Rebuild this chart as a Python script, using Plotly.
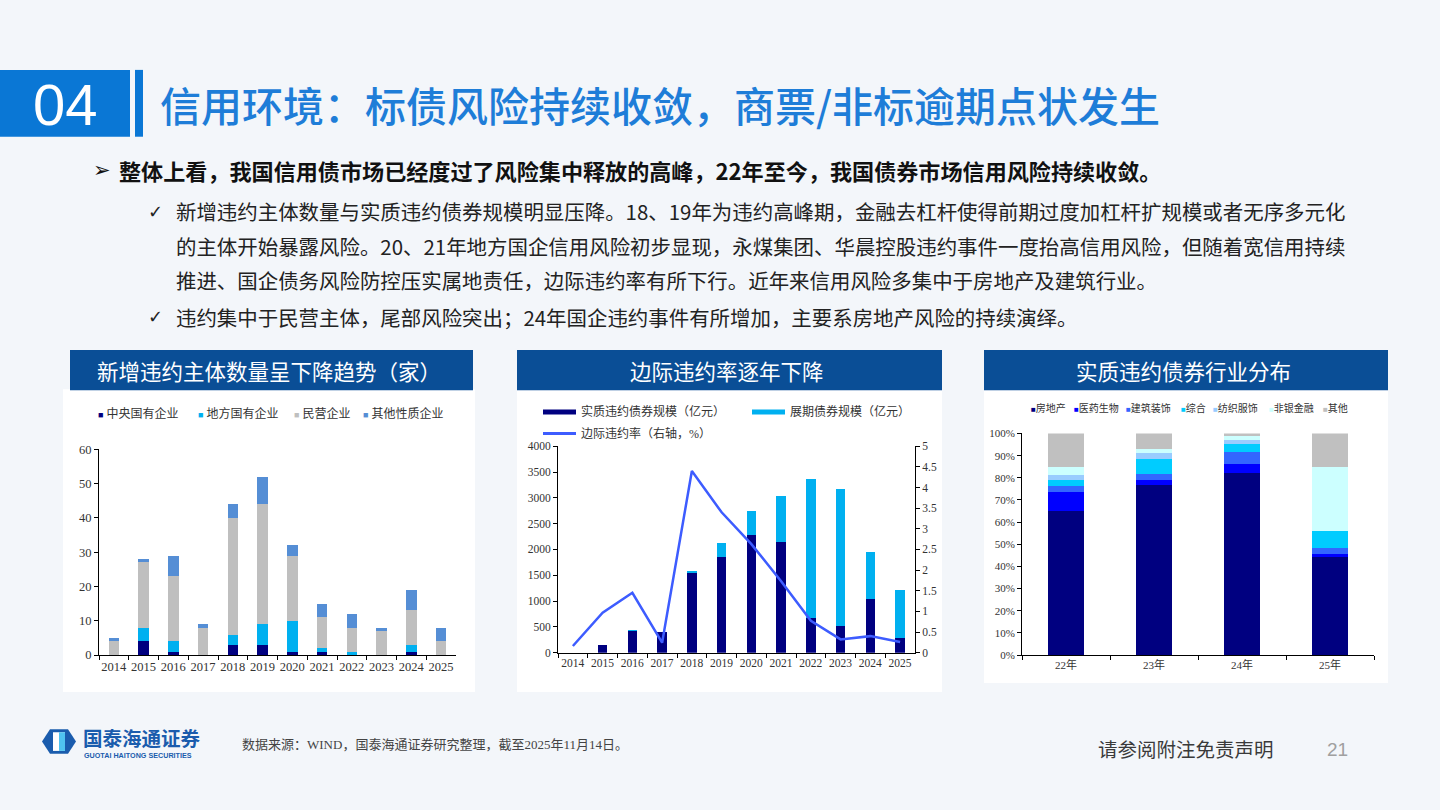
import plotly.graph_objects as go

# ---------------- data ----------------
years = ["2014", "2015", "2016", "2017", "2018", "2019", "2020", "2021", "2022", "2023", "2024", "2025"]

# chart 1: new defaulting issuers (count)
issuer_series = ["中央国有企业", "地方国有企业", "民营企业", "其他性质企业"]
central_soe = [0, 4, 1, 0, 3, 3, 1, 1, 0, 0, 1, 0]
local_soe = [0, 4, 3, 0, 3, 6, 9, 1, 1, 0, 2, 0]
private_ent = [4, 19, 19, 8, 34, 35, 19, 9, 7, 7, 10, 4]
other_ent = [1, 1, 6, 1, 4, 8, 3, 4, 4, 1, 6, 4]

# chart 2: default / extension scale (100m yuan) and marginal default rate (%)
amount_series = ["实质违约债券规模（亿元）", "展期债券规模（亿元）", "边际违约率（右轴，%）"]
default_amt = [0, 146, 420, 395, 1541, 1853, 2274, 2153, 662, 522, 1038, 287]
extension_amt = [0, 0, 13, 0, 19, 281, 471, 892, 2695, 2644, 905, 923]
marginal_rate = [0.16, 0.97, 1.45, 0.24, 4.40, 3.40, 2.63, 1.73, 0.77, 0.32, 0.40, 0.26]

# chart 3: industry distribution of defaulted bonds (%)
periods = ["22年", "23年", "24年", "25年"]
industries = ["房地产", "医药生物", "建筑装饰", "综合", "纺织服饰", "非银金融", "其他"]
real_estate = [65.2, 76.9, 82.2, 44.1]
pharma = [8.3, 1.9, 4.0, 1.5]
construction = [3.0, 2.9, 5.4, 2.9]
conglomerate = [2.6, 6.9, 3.7, 7.3]
textile = [2.3, 2.7, 1.6, 0.3]
nonbank_fin = [3.4, 1.6, 1.8, 29.0]
others = [15.2, 7.1, 1.3, 14.9]

# ---------------- helpers ----------------
W, H = 1440, 810
def px(x):
    return x / W
def py(y):
    return 1 - y / H

CJK = "Noto Sans CJK SC"
SERIF = "Liberation Serif, Noto Sans CJK SC"

fig = go.Figure()

# chart 1 traces
c1_cols = ["#000080", "#00B0F0", "#BFBFBF", "#558ED5"]
for name, vals, col in zip(issuer_series, [central_soe, local_soe, private_ent, other_ent], c1_cols):
    fig.add_trace(go.Bar(x=years, y=vals, name=name, marker=dict(color=col, line=dict(width=0)),
                         width=0.36, xaxis="x", yaxis="y", showlegend=False))

# chart 2 traces
fig.add_trace(go.Bar(x=years, y=default_amt, name=amount_series[0], marker=dict(color="#000080", line=dict(width=0)),
                     width=0.32, xaxis="x2", yaxis="y2", showlegend=False))
fig.add_trace(go.Bar(x=years, y=extension_amt, name=amount_series[1], marker=dict(color="#00B0F0", line=dict(width=0)),
                     width=0.32, xaxis="x2", yaxis="y2", showlegend=False))
fig.add_trace(go.Scatter(x=years, y=marginal_rate, name=amount_series[2], mode="lines",
                         line=dict(color="#3D5CFF", width=2.5), xaxis="x2", yaxis="y3", showlegend=False))

# chart 3 traces
c3_cols = ["#000080", "#0000FF", "#3366FF", "#00CCFF", "#99CCFF", "#CCFFFF", "#C0C0C0"]
for name, vals, col in zip(industries, [real_estate, pharma, construction, conglomerate, textile, nonbank_fin, others], c3_cols):
    fig.add_trace(go.Bar(x=periods, y=vals, name=name, marker=dict(color=col, line=dict(width=0)),
                         width=0.4, xaxis="x3", yaxis="y4", showlegend=False))

def ax(size=12, **kw):
    d = dict(showgrid=False, zeroline=False, showline=True, linecolor="#000000", linewidth=1,
             ticks="outside", ticklen=4, tickcolor="#000000", tickangle=0,
             tickfont=dict(family=SERIF, size=size, color="#333333"))
    d.update(kw)
    return d

fig.update_layout(
    width=W, height=H, margin=dict(l=0, r=0, t=0, b=0),
    paper_bgcolor="#F3F6FA", plot_bgcolor="rgba(0,0,0,0)",
    barmode="stack",
    xaxis=ax(12.5, domain=[px(99), px(456)], anchor="y", type="category", tickson="boundaries"),
    yaxis=ax(12.5, domain=[py(659.5), py(450)], anchor="x", range=[0, 60], dtick=10),
    xaxis2=ax(11.5, domain=[px(558), px(915)], anchor="y2", type="category", tickson="boundaries"),
    yaxis2=ax(11.5, domain=[py(657), py(447)], anchor="x2", range=[0, 4000], dtick=500),
    yaxis3=ax(11.5, overlaying="y2", anchor="x2", side="right", range=[0, 5], dtick=0.5),
    xaxis3=ax(11, domain=[px(1022), px(1374)], anchor="y4", type="category", tickson="boundaries"),
    yaxis4=ax(11, domain=[py(659.5), py(434)], anchor="x3", range=[0, 100], dtick=10, ticksuffix="%"),
)

shapes = []
annotations = []

# header
shapes.append(dict(type="rect", xref="paper", yref="paper", x0=px(0), x1=px(130), y0=py(132), y1=py(64),
                   fillcolor="#0A77D5", line=dict(width=0), layer="below"))
shapes.append(dict(type="rect", xref="paper", yref="paper", x0=px(135), x1=px(143), y0=py(132), y1=py(64),
                   fillcolor="#0A77D5", line=dict(width=0), layer="below"))
annotations.append(dict(text="04", x=px(65), y=py(99), xref="paper", yref="paper", showarrow=False,
                        xanchor="center", yanchor="middle", font=dict(family="Liberation Sans", size=58, color="#FFFFFF")))
annotations.append(dict(text="信用环境：标债风险持续收敛，商票/非标逾期点状发生", x=px(158), y=py(99), xref="paper", yref="paper",
                        showarrow=False, xanchor="left", yanchor="middle",
                        font=dict(family=CJK, size=41, color="#1E7DD8", weight=500)))

# bullet text
annotations.append(dict(text="➢", x=px(91), y=py(166), xref="paper", yref="paper", showarrow=False,
                        xanchor="left", yanchor="middle", font=dict(family="DejaVu Sans", size=21, color="#111111")))
annotations.append(dict(text="整体上看，我国信用债市场已经度过了风险集中释放的高峰，22年至今，我国债券市场信用风险持续收敛。",
                        x=px(117), y=py(166), xref="paper", yref="paper", showarrow=False,
                        xanchor="left", yanchor="middle", font=dict(family=CJK, size=22.1, color="#111111", weight="bold")))
check_lines = [
    (208, "✓", "新增违约主体数量与实质违约债券规模明显压降。18、19年为违约高峰期，金融去杠杆使得前期过度加杠杆扩规模或者无序多元化"),
    (243, "", "的主体开始暴露风险。20、21年地方国企信用风险初步显现，永煤集团、华晨控股违约事件一度抬高信用风险，但随着宽信用持续"),
    (278, "", "推进、国企债务风险防控压实属地责任，边际违约率有所下行。近年来信用风险多集中于房地产及建筑行业。"),
    (315, "✓", "违约集中于民营主体，尾部风险突出；24年国企违约事件有所增加，主要系房地产风险的持续演绎。"),
]
for yy, mark, txt in check_lines:
    if mark:
        annotations.append(dict(text=mark, x=px(146), y=py(yy), xref="paper", yref="paper", showarrow=False,
                                xanchor="left", yanchor="middle", font=dict(family="DejaVu Sans", size=18, color="#222222")))
    annotations.append(dict(text=txt, x=px(174), y=py(yy), xref="paper", yref="paper", showarrow=False,
                            xanchor="left", yanchor="middle", font=dict(family=CJK, size=20.45, color="#222222")))

# panels
panels = [
    (63, 475, 348, 697, 70, 473, "新增违约主体数量呈下降趋势（家）"),
    (517, 942, 349, 697, 517, 942, "边际违约率逐年下降"),
    (984, 1388, 349, 688, 984, 1388, "实质违约债券行业分布"),
]
for x0, x1, y0, y1, tx0, tx1, title in panels:
    shapes.append(dict(type="rect", xref="paper", yref="paper", x0=px(x0), x1=px(x1), y0=py(y1), y1=py(y0 + 41),
                       fillcolor="#FFFFFF", line=dict(width=0), layer="below"))
    shapes.append(dict(type="rect", xref="paper", yref="paper", x0=px(tx0), x1=px(tx1), y0=py(390), y1=py(349),
                       fillcolor="#0A4E96", line=dict(width=0), layer="below"))
    annotations.append(dict(text=title, x=px((tx0 + tx1) / 2 - 3), y=py(369.5), xref="paper", yref="paper",
                            showarrow=False, xanchor="center", yanchor="middle",
                            font=dict(family=CJK, size=21.5, color="#FFFFFF")))

# chart 1 legend
c1_leg_x = [96, 196, 292, 361]
for xx, name, col in zip(c1_leg_x, issuer_series, c1_cols):
    annotations.append(dict(text=f"<span style='color:{col};font-size:9px'>■</span> {name}", x=px(xx), y=py(414),
                            xref="paper", yref="paper", showarrow=False, xanchor="left", yanchor="middle",
                            font=dict(family=SERIF, size=12, color="#333333")))

# chart 2 legend
c2_leg = [(543, 412, "#000080", 5), (752, 412, "#00B0F0", 5), (543, 434, "#3D5CFF", 3)]
for (xx, yy, col, th), name in zip(c2_leg, amount_series):
    shapes.append(dict(type="line", xref="paper", yref="paper", x0=px(xx), x1=px(xx + 33), y0=py(yy), y1=py(yy),
                       line=dict(color=col, width=th)))
    annotations.append(dict(text=name, x=px(xx + 36), y=py(yy), xref="paper", yref="paper", showarrow=False,
                            xanchor="left", yanchor="middle", font=dict(family=SERIF, size=12, color="#333333")))

# chart 3 legend
c3_leg_x = [1029, 1072, 1124, 1179, 1211, 1267, 1321]
for xx, name, col in zip(c3_leg_x, industries, c3_cols):
    annotations.append(dict(text=f"<span style='color:{col};font-size:8px'>■</span>{name}", x=px(xx), y=py(408),
                            xref="paper", yref="paper", showarrow=False, xanchor="left", yanchor="middle",
                            font=dict(family=SERIF, size=10, color="#333333")))

# footer: logo
shapes.append(dict(type="path", xref="paper", yref="paper",
                   path=f"M {px(50)},{py(735)} L {px(68)},{py(735)} L {px(76)},{py(747.5)} L {px(68)},{py(760)} "
                        f"L {px(50)},{py(760)} L {px(42)},{py(747.5)} Z",
                   fillcolor="#1A5CAD", line=dict(width=0)))
shapes.append(dict(type="rect", xref="paper", yref="paper", x0=px(53), x1=px(65), y0=py(757), y1=py(738),
                   fillcolor="#FFFFFF", line=dict(width=0)))
shapes.append(dict(type="rect", xref="paper", yref="paper", x0=px(59), x1=px(65), y0=py(757), y1=py(738),
                   fillcolor="#4FC3F0", line=dict(width=0)))
annotations.append(dict(text="<b>国泰海通证券</b>", x=px(81), y=py(743), xref="paper", yref="paper", showarrow=False,
                        xanchor="left", yanchor="middle", font=dict(family=CJK, size=19.5, color="#1A5CAD")))
annotations.append(dict(text="<b>GUOTAI HAITONG SECURITIES</b>", x=px(82), y=py(761.5), xref="paper", yref="paper",
                        showarrow=False, xanchor="left", yanchor="middle",
                        font=dict(family="Liberation Sans", size=7.2, color="#1A5CAD")))
annotations.append(dict(text="数据来源：WIND，国泰海通证券研究整理，截至2025年11月14日。", x=px(240), y=py(750),
                        xref="paper", yref="paper", showarrow=False, xanchor="left", yanchor="middle",
                        font=dict(family=SERIF, size=13, color="#444444")))
annotations.append(dict(text="请参阅附注免责声明", x=px(1096), y=py(755), xref="paper", yref="paper", showarrow=False,
                        xanchor="left", yanchor="middle", font=dict(family=CJK, size=19.5, color="#3A3A3A")))
annotations.append(dict(text="21", x=px(1325), y=py(756), xref="paper", yref="paper", showarrow=False,
                        xanchor="left", yanchor="middle", font=dict(family="Liberation Sans", size=19, color="#A0A0A0")))

fig.update_layout(shapes=shapes, annotations=annotations)
fig.write_html("out.html")
